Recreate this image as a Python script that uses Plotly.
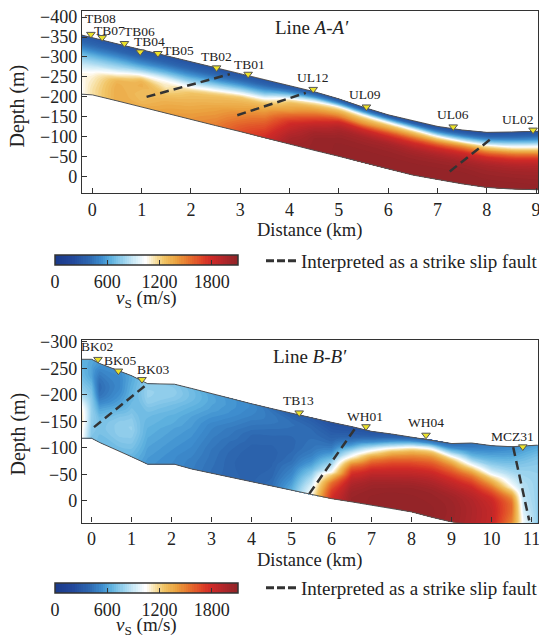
import plotly.graph_objects as go

W, H = 539, 636
FONT = "Liberation Serif"
INK = "#222222"

# ---------------- colour scale for vS (m/s) ----------------
vs_min, vs_max = 0, 2100
cs_pos = [0.0, 0.095, 0.19, 0.262, 0.31, 0.38, 0.45, 0.50, 0.55, 0.60, 0.67, 0.74, 0.81, 0.86, 0.93, 1.0]
cs_col = ["#1b3a8a", "#22479a", "#2d67b0", "#3f8fcf", "#5fb2df", "#9bd3ee", "#d8eff8", "#ffffff",
          "#f8e4ae", "#f1c566", "#eba23f", "#e6722d", "#df4527", "#d02a27", "#b2262a", "#942428"]
cbar_ticks = [0, 600, 1200, 1800]

# fractional depth levels between the surface (0) and the model bottom (1)
depth_frac = [0, 0.05, 0.10, 0.15, 0.20, 0.25, 0.30, 0.35, 0.40, 0.45, 0.50, 0.55, 0.60, 0.65, 0.70, 0.80, 0.90, 1.0]

# ---------------- Line A-A' ----------------
p1_x = [-0.25, 0.0, 0.5, 1.0, 1.5, 2.0, 2.5, 3.0, 3.5, 4.0, 4.5, 5.0, 5.5, 6.0, 6.5, 7.0, 7.5, 8.0, 8.5, 9.1]
p1_top = [-356, -348, -333, -318, -303, -288, -273, -257, -242, -228, -213, -195, -174, -155, -140, -126, -117, -111, -112, -114]
p1_bottom = [-207, -205, -190, -175, -159, -144, -128, -113, -97, -82, -66, -51, -35, -19, -4, 7, 18, 27, 31, 33]
# one velocity profile per column (values at depth_frac levels)
p1_vs = [
    [320, 340, 380, 430, 500, 580, 650, 720, 780, 840, 900, 950, 1000, 1050, 1050, 1030, 1020, 1020],
    [300, 330, 370, 420, 480, 560, 630, 700, 770, 830, 900, 960, 1030, 1070, 1100, 1130, 1150, 1150],
    [290, 320, 360, 420, 490, 570, 640, 720, 800, 880, 1000, 1100, 1220, 1300, 1330, 1350, 1350, 1350],
    [280, 310, 350, 410, 480, 560, 650, 760, 900, 1050, 1200, 1300, 1330, 1330, 1300, 1280, 1300, 1350],
    [280, 310, 360, 420, 500, 590, 690, 820, 950, 1050, 1100, 1130, 1180, 1230, 1280, 1330, 1370, 1400],
    [280, 310, 360, 420, 500, 590, 690, 800, 930, 1050, 1180, 1250, 1280, 1300, 1320, 1360, 1400, 1430],
    [280, 310, 370, 440, 530, 640, 770, 900, 1050, 1200, 1270, 1300, 1320, 1350, 1380, 1420, 1460, 1500],
    [290, 330, 400, 490, 600, 730, 880, 1050, 1220, 1280, 1320, 1350, 1380, 1420, 1460, 1530, 1600, 1650],
    [290, 340, 420, 520, 640, 780, 960, 1120, 1250, 1320, 1370, 1420, 1470, 1520, 1570, 1650, 1720, 1780],
    [290, 370, 500, 680, 900, 1150, 1270, 1330, 1380, 1450, 1550, 1630, 1720, 1780, 1820, 1900, 1970, 2020],
    [300, 420, 600, 900, 1150, 1280, 1380, 1460, 1560, 1660, 1760, 1830, 1900, 1950, 2000, 2050, 2060, 2060],
    [280, 420, 670, 1080, 1260, 1380, 1480, 1630, 1780, 1860, 1930, 1980, 2010, 2040, 2060, 2080, 2080, 2080],
    [280, 420, 680, 1050, 1230, 1350, 1450, 1620, 1780, 1860, 1930, 1990, 2010, 2040, 2060, 2080, 2080, 2080],
    [270, 420, 700, 1050, 1250, 1380, 1520, 1680, 1790, 1870, 1940, 1990, 2020, 2040, 2060, 2080, 2080, 2080],
    [260, 380, 620, 950, 1200, 1350, 1500, 1650, 1770, 1850, 1920, 1970, 2000, 2030, 2050, 2080, 2090, 2090],
    [250, 360, 520, 760, 1080, 1280, 1460, 1620, 1760, 1840, 1910, 1960, 2000, 2030, 2050, 2080, 2090, 2100],
    [250, 340, 480, 680, 930, 1230, 1440, 1590, 1740, 1830, 1900, 1950, 2000, 2030, 2050, 2080, 2090, 2100],
    [250, 330, 450, 620, 850, 1120, 1300, 1480, 1640, 1770, 1850, 1920, 1970, 2000, 2030, 2060, 2090, 2100],
    [260, 330, 430, 580, 770, 980, 1180, 1380, 1550, 1700, 1800, 1880, 1940, 1980, 2010, 2050, 2080, 2100],
    [270, 340, 440, 580, 760, 970, 1150, 1340, 1520, 1680, 1790, 1870, 1920, 1960, 2000, 2040, 2070, 2090],
]
p1_stations = ["TB08", "TB07", "TB06", "TB04", "TB05", "TB02", "TB01", "UL12", "UL09", "UL06", "UL02"]
p1_station_x = [-0.03, 0.20, 0.65, 0.97, 1.33, 2.52, 3.16, 4.48, 5.56, 7.32, 8.94]
p1_station_y = [-357, -349, -334, -313, -309, -273, -257, -219, -175, -125, -117]
p1_fault_x = [[1.10, 2.79], [2.94, 4.33], [7.25, 8.13]]
p1_fault_y = [[-200, -257], [-154, -210], [-13, -99]]
p1_xticks = [0, 1, 2, 3, 4, 5, 6, 7, 8, 9]
p1_yticks = [-400, -350, -300, -250, -200, -150, -100, -50, 0]

# ---------------- Line B-B' ----------------
p2_x = [-0.25, 0.0, 0.2, 0.7, 1.0, 1.4, 2.07, 2.5, 3.0, 3.5, 4.0, 4.5, 5.0, 5.5, 6.0, 6.5, 7.0,
        7.5, 8.0, 8.5, 9.0, 9.5, 10.0, 10.5, 10.8, 11.15]
p2_top = [-267, -267, -259, -245, -236, -221, -220, -212, -202, -193, -183, -174, -165, -157, -148, -140, -131,
          -126, -120, -115, -108, -109, -104, -102, -103, -105]
p2_bottom = [-118, -118, -110, -94, -83, -69, -69, -60, -52, -44, -36, -28, -20, -11, -4, 2, 8,
             14, 21, 31, 40, 44, 48, 52, 55, 58]
p2_vs = [
    [650, 650, 660, 670, 680, 700, 720, 750, 780, 830, 900, 980, 1050, 1100, 1120, 1120, 1080, 1050],
    [620, 610, 600, 600, 600, 620, 650, 680, 700, 720, 740, 750, 760, 770, 770, 760, 740, 720],
    [560, 540, 500, 470, 440, 420, 410, 420, 440, 480, 530, 580, 620, 660, 690, 710, 700, 690],
    [540, 530, 520, 520, 520, 530, 550, 570, 600, 630, 670, 710, 740, 760, 770, 760, 720, 680],
    [620, 620, 630, 640, 650, 660, 670, 680, 700, 720, 740, 760, 770, 780, 770, 740, 700, 660],
    [760, 770, 780, 780, 770, 750, 720, 700, 680, 670, 660, 650, 640, 630, 620, 600, 580, 560],
    [740, 750, 760, 750, 730, 700, 680, 660, 640, 630, 620, 600, 590, 580, 570, 550, 530, 520],
    [680, 690, 690, 680, 660, 640, 620, 600, 590, 580, 570, 560, 550, 540, 530, 510, 490, 480],
    [600, 610, 610, 600, 590, 570, 550, 530, 510, 500, 490, 480, 470, 460, 450, 440, 430, 420],
    [560, 560, 560, 550, 540, 520, 500, 480, 460, 450, 440, 420, 410, 400, 390, 380, 380, 380],
    [520, 520, 510, 500, 480, 460, 440, 420, 400, 390, 380, 370, 360, 350, 350, 350, 360, 370],
    [420, 450, 460, 460, 450, 430, 410, 400, 390, 380, 370, 360, 360, 360, 370, 380, 400, 420],
    [350, 390, 420, 430, 420, 410, 400, 390, 390, 390, 400, 410, 420, 440, 470, 520, 580, 640],
    [320, 350, 380, 400, 410, 420, 430, 440, 450, 470, 500, 540, 590, 650, 720, 850, 960, 1050],
    [260, 280, 310, 340, 370, 400, 440, 490, 560, 640, 730, 820, 920, 1030, 1250, 1550, 1700, 1780],
    [260, 290, 330, 390, 470, 580, 730, 900, 1050, 1250, 1450, 1600, 1720, 1800, 1880, 1980, 2040, 2060],
    [270, 330, 430, 560, 760, 980, 1180, 1380, 1530, 1650, 1750, 1830, 1900, 1960, 2010, 2060, 2080, 2080],
    [300, 400, 560, 800, 1080, 1300, 1450, 1580, 1680, 1760, 1830, 1890, 1950, 2000, 2040, 2080, 2090, 2090],
    [350, 520, 800, 1120, 1330, 1460, 1570, 1670, 1750, 1820, 1880, 1940, 1990, 2030, 2060, 2080, 2090, 2090],
    [380, 560, 900, 1200, 1380, 1500, 1600, 1690, 1770, 1840, 1900, 1950, 1990, 2030, 2050, 2070, 2080, 2080],
    [400, 520, 720, 960, 1200, 1370, 1500, 1600, 1700, 1780, 1850, 1900, 1950, 1990, 2020, 2040, 2040, 2030],
    [420, 480, 560, 650, 780, 950, 1150, 1350, 1500, 1620, 1720, 1800, 1860, 1900, 1930, 1950, 1950, 1940],
    [480, 520, 580, 640, 710, 790, 880, 1000, 1200, 1350, 1480, 1600, 1700, 1780, 1820, 1850, 1850, 1840],
    [520, 560, 600, 650, 700, 750, 800, 860, 920, 980, 1080, 1250, 1400, 1500, 1550, 1550, 1500, 1450],
    [560, 600, 640, 680, 720, 750, 780, 800, 820, 840, 850, 860, 870, 880, 900, 950, 1000, 1000],
    [600, 640, 680, 720, 740, 760, 770, 780, 780, 780, 780, 780, 780, 780, 780, 780, 780, 780],
]
p2_stations = ["BK02", "BK05", "BK03", "TB13", "WH01", "WH04", "MCZ31"]
p2_station_x = [0.16, 0.67, 1.26, 5.19, 6.86, 8.36, 10.78]
p2_station_y = [-267, -245, -229, -166, -140, -124, -102]
p2_fault_x = [[0.06, 1.37], [5.44, 6.63], [10.54, 10.94]]
p2_fault_y = [[-139, -219], [-13, -141], [-101, 37]]
p2_xticks = [0, 1, 2, 3, 4, 5, 6, 7, 8, 9, 10, 11]
p2_yticks = [-300, -250, -200, -150, -100, -50, 0]

legend_text = "Interpreted as a strike slip fault"

# ---------------- styling / layout (pixels) ----------------
p1_label_shift = [(10, 16), (7, 7), (15, 12), (9, 10), (21, 3), (0, 11), (1, 10), (0, 12), (-1, 12), (0, 12), (-15, 10)]
p2_label_shift = [(-1, 13), (2, 10), (11, 10), (-1, 12), (-1, 10), (0, 13), (-10, 10)]

panels = [
    dict(xa="x", ya="y", left=82, right=538, top=10.7, bottom=193,
         xrange=[-0.21, 9.04], yrange=[41, -416], title="Line <i>A</i>-<i>A′</i>", title_xy=(312, 27),
         depth_title_y=106, dist_title_y=231, cb_top=255, vs_title_y=299, legend_y=261),
    dict(xa="x2", ya="y2", left=82, right=538, top=340, bottom=522.5,
         xrange=[-0.24, 11.16], yrange=[41, -303.4], title="Line <i>B</i>-<i>B′</i>", title_xy=(310, 356),
         depth_title_y=434, dist_title_y=560, cb_top=582.5, vs_title_y=626, legend_y=588),
]


def px_x(px):
    return px / W


def px_y(py):
    return 1 - py / H


colorscale = [[p, c] for p, c in zip(cs_pos, cs_col)]
fig = go.Figure()
annotations = []

datasets = [
    (p1_x, p1_top, p1_bottom, p1_vs, p1_stations, p1_station_x, p1_station_y, p1_fault_x, p1_fault_y, p1_label_shift),
    (p2_x, p2_top, p2_bottom, p2_vs, p2_stations, p2_station_x, p2_station_y, p2_fault_x, p2_fault_y, p2_label_shift),
]

hide_axis = dict(showgrid=False, showline=False, showticklabels="none", startline=False, endline=False,
                 minorgridcount=0, smoothing=0, gridcolor="rgba(0,0,0,0)", linecolor="rgba(0,0,0,0)")

for k, (pn, ds) in enumerate(zip(panels, datasets)):
    xs, top, bot, cols, names, sx, sy, fx, fy, shifts = ds
    xa, ya = pn["xa"], pn["ya"]
    cid = "c%d" % (k + 1)
    grid_x = [list(xs) for _ in depth_frac]
    grid_y = [[t + f * (b - t) for t, b in zip(top, bot)] for f in depth_frac]
    z = [[col[i] for col in cols] for i in range(len(depth_frac))]

    fig.add_trace(go.Carpet(carpet=cid, a=xs, b=depth_frac, x=grid_x, y=grid_y,
                            aaxis=hide_axis, baxis=hide_axis, xaxis=xa, yaxis=ya))
    fig.add_trace(go.Contourcarpet(
        carpet=cid, a=xs, b=depth_frac, z=z, xaxis=xa, yaxis=ya,
        colorscale=colorscale, zauto=False, zmin=vs_min, zmax=vs_max,
        autocontour=False, contours=dict(start=vs_min, end=vs_max - 25, size=25, coloring="fill", showlines=False),
        line=dict(width=0, smoothing=0.8), showscale=True,
        colorbar=dict(orientation="h", x=px_x(55), xanchor="left", xref="paper",
                      y=px_y(pn["cb_top"]), yanchor="top", yref="paper",
                      len=183, lenmode="pixels", thickness=10, thicknessmode="pixels",
                      xpad=0, ypad=0, outlinewidth=1.5, outlinecolor="#333",
                      tickvals=cbar_ticks, ticks="inside", ticklen=5, tickwidth=1.2, tickcolor="#333",
                      tickfont=dict(family=FONT, size=18, color=INK))))

    # model boundaries
    for edge in (top, bot):
        fig.add_trace(go.Scatter(x=xs, y=edge, mode="lines", line=dict(color="#555", width=1),
                                 xaxis=xa, yaxis=ya, showlegend=False, hoverinfo="skip"))
    # faults
    for fxi, fyi in zip(fx, fy):
        fig.add_trace(go.Scatter(x=fxi, y=fyi, mode="lines", line=dict(color="#333", width=2.5, dash="9px,5px"),
                                 xaxis=xa, yaxis=ya, showlegend=False, hoverinfo="skip"))
    # legend entry
    fig.add_trace(go.Scatter(x=[None], y=[None], mode="lines", name=legend_text,
                             line=dict(color="#333", width=3, dash="8px,3px"),
                             xaxis=xa, yaxis=ya, showlegend=True,
                             legend="legend" if k == 0 else "legend2"))
    # stations
    fig.add_trace(go.Scatter(x=sx, y=sy, mode="markers",
                             marker=dict(symbol="triangle-down", size=7.5, color="#ece22a",
                                         line=dict(color="#555", width=1)),
                             xaxis=xa, yaxis=ya, showlegend=False, hoverinfo="skip"))
    for name, x0, y0, (dx, dy) in zip(names, sx, sy, shifts):
        annotations.append(dict(x=x0, y=y0, xref=xa, yref=ya, text=name, showarrow=False,
                                xshift=dx, yshift=dy, xanchor="center", yanchor="middle",
                                font=dict(family=FONT, size=13.5, color=INK)))

    # titles / labels
    annotations.append(dict(x=px_x(pn["title_xy"][0]), y=px_y(pn["title_xy"][1]), xref="paper", yref="paper",
                            text=pn["title"], showarrow=False, xanchor="center", yanchor="middle",
                            font=dict(family=FONT, size=19, color=INK)))
    annotations.append(dict(x=px_x(17.5), y=px_y(pn["depth_title_y"]), xref="paper", yref="paper",
                            text="Depth (m)", textangle=-90, showarrow=False, xanchor="center", yanchor="middle",
                            font=dict(family=FONT, size=20, color=INK)))
    annotations.append(dict(x=px_x(309), y=px_y(pn["dist_title_y"]), xref="paper", yref="paper",
                            text="Distance (km)", showarrow=False, xanchor="center", yanchor="middle",
                            font=dict(family=FONT, size=18.5, color=INK)))
    annotations.append(dict(x=px_x(146), y=px_y(pn["vs_title_y"]), xref="paper", yref="paper",
                            text="<i>v</i><sub>S</sub> (m/s)", showarrow=False, xanchor="center", yanchor="middle",
                            font=dict(family=FONT, size=19, color=INK)))

axis_common = dict(ticks="inside", ticklen=5, tickwidth=1.2, tickcolor="#333", showline=True,
                   linecolor="#333", linewidth=1.3, mirror=True, showgrid=False, zeroline=False,
                   automargin=False, ticklabeloverflow="allow",
                   tickfont=dict(family=FONT, size=18, color=INK))

layout = dict(
    width=W, height=H, margin=dict(l=0, r=0, t=0, b=0, autoexpand=False),
    paper_bgcolor="white", plot_bgcolor="white", showlegend=True,
    annotations=annotations,
)
for k, pn in enumerate(panels):
    sfx = "" if k == 0 else "2"
    xt = p1_xticks if k == 0 else p2_xticks
    yt = p1_yticks if k == 0 else p2_yticks
    layout["xaxis" + sfx] = dict(axis_common, domain=[px_x(pn["left"]), px_x(pn["right"])],
                                 range=pn["xrange"], tickvals=xt, anchor="y" + sfx)
    layout["yaxis" + sfx] = dict(axis_common, domain=[px_y(pn["bottom"]), px_y(pn["top"])],
                                 range=pn["yrange"], tickvals=yt, anchor="x" + sfx)
    layout["legend" + sfx] = dict(x=px_x(261), xanchor="left", y=px_y(pn["legend_y"]), yanchor="middle",
                                  bgcolor="rgba(0,0,0,0)", borderwidth=0,
                                  font=dict(family=FONT, size=19, color=INK))

fig.update_layout(**layout)
fig.write_html("out.html", config={"displayModeBar": False},
               post_script="document.body.style.margin='0';document.body.style.overflow='hidden';")
